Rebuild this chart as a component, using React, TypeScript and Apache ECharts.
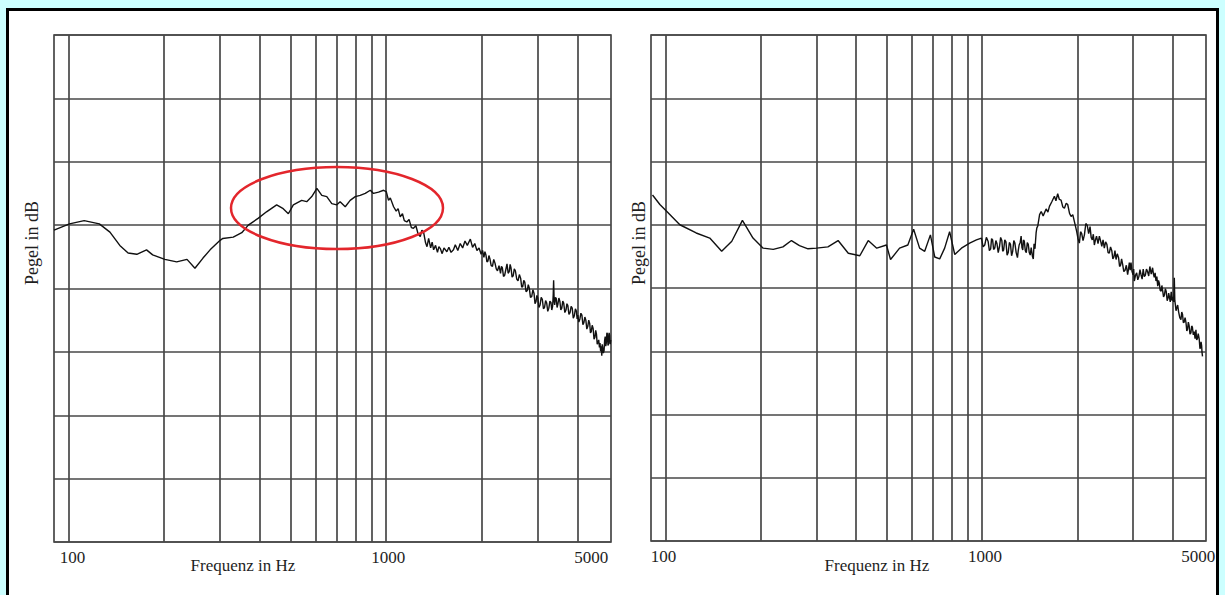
import React, { useEffect, useRef } from "react";
import * as echarts from "echarts";

// Frequency axis (Hz, logarithmic) and level axis (dB, arbitrary 8 divisions)
const X_MIN = 90;
const X_MAX = 5100;
const Y_MIN = 0;
const Y_MAX = 80;
const Y_STEP = 10;

const gridFrequencies = [100, 200, 300, 400, 500, 600, 700, 800, 900, 1000, 2000, 3000, 4000];
const tickLabels = [100, 1000, 5000];
const xAxisName = "Frequenz in Hz";
const yAxisName = "Pegel in dB";

// Left chart: [frequency Hz, level dB]
const leftCurve: [number, number][] = [
  [90, 49.2], [100.7, 50.2], [112, 50.7], [125, 50.2], [135, 48.9], [145, 46.8], [154, 45.6],
  [164, 45.4], [176, 46.1], [184, 45.3], [201, 44.6], [219, 44.2], [236, 44.6], [250, 43.2],
  [265, 44.8], [279, 46.1], [300, 47.6], [306, 47.9], [330, 48.1], [351, 48.8], [368, 50.0],
  [396, 51.1], [420, 52.1], [452, 53.2], [474, 52.6], [492, 51.8], [510, 53.2], [542, 53.9],
  [562, 53.7], [583, 54.5], [605, 55.8], [627, 54.7], [650, 54.5], [674, 53.4], [699, 53.2],
  [716, 53.7], [743, 52.9], [770, 53.9], [799, 54.5], [828, 54.7], [859, 55.0], [891, 55.5],
  [912, 55.0], [946, 55.2], [981, 55.5], [1000, 55.3], [1017, 53.9], [1030, 54.3], [1055, 52.9],
  [1075, 52.2], [1090, 52.6], [1107, 51.3], [1125, 51.8], [1140, 50.7], [1161, 50.5], [1180, 50.9],
  [1200, 49.6], [1218, 49.5], [1240, 49.9], [1260, 48.6], [1280, 48.2], [1295, 49.2], [1311, 48.9],
  [1330, 47.2], [1344, 46.6], [1360, 47.9], [1380, 46.4], [1395, 47.3], [1410, 46.1], [1430, 46.8],
  [1450, 45.7], [1465, 46.6], [1480, 46.3], [1500, 45.5], [1520, 46.4], [1552, 45.8], [1575, 46.5],
  [1600, 45.7], [1628, 46.1], [1650, 46.9], [1680, 46.0], [1710, 47.1], [1740, 46.4], [1770, 47.5],
  [1800, 46.8], [1840, 47.8], [1870, 46.5], [1900, 47.1], [1930, 46.0], [1960, 46.4], [1990, 45.4],
  [2010, 46.0], [2030, 44.9], [2045, 45.8], [2060, 45.3], [2075, 44.2], [2090, 44.3], [2105, 45.2],
  [2120, 44.7], [2140, 43.6], [2160, 43.5], [2180, 44.6], [2200, 44.0], [2220, 43.1], [2240, 42.8],
  [2265, 43.6], [2290, 42.4], [2305, 43.5], [2320, 43.3], [2340, 41.9], [2360, 42.1], [2380, 43.0],
  [2400, 43.9], [2420, 42.4], [2440, 42.7], [2455, 43.8], [2470, 43.3], [2490, 41.8], [2510, 42.0],
  [2530, 43.1], [2550, 42.8], [2575, 41.5], [2600, 41.2], [2625, 42.2], [2650, 41.6], [2670, 40.2],
  [2690, 40.3], [2710, 41.3], [2730, 41.0], [2755, 39.5], [2780, 39.7], [2800, 40.6], [2820, 40.1],
  [2845, 38.6], [2870, 38.7], [2895, 39.8], [2920, 39.2], [2940, 37.6], [2960, 37.9], [2980, 38.9],
  [3000, 38.5], [3025, 37.0], [3050, 37.4], [3075, 38.6], [3100, 38.3], [3125, 36.8], [3150, 37.0],
  [3175, 38.1], [3200, 37.7], [3225, 36.4], [3250, 36.9], [3275, 38.0], [3300, 37.8], [3320, 36.6],
  [3340, 37.2], [3355, 39.0], [3365, 41.3], [3378, 38.0], [3390, 37.4], [3410, 38.6], [3430, 38.4],
  [3450, 37.0], [3470, 37.5], [3495, 38.5], [3520, 38.0], [3545, 36.6], [3570, 36.9], [3595, 38.0],
  [3620, 37.7], [3650, 36.2], [3680, 36.6], [3705, 37.6], [3730, 37.3], [3760, 35.9], [3790, 36.2],
  [3820, 37.2], [3850, 36.9], [3880, 35.3], [3910, 35.7], [3940, 36.8], [3970, 36.4], [3990, 35.2],
  [4010, 35.8], [4040, 34.7], [4070, 35.2], [4100, 36.1], [4130, 35.8], [4160, 34.3], [4190, 34.6],
  [4220, 35.5], [4250, 35.0], [4280, 33.6], [4310, 34.0], [4340, 35.0], [4370, 34.5], [4395, 33.0],
  [4420, 33.2], [4450, 34.2], [4480, 33.7], [4510, 32.0], [4540, 32.3], [4565, 33.4], [4590, 32.8],
  [4615, 31.2], [4640, 31.5], [4665, 31.9], [4690, 30.7], [4710, 31.4], [4730, 30.1], [4750, 30.9],
  [4770, 29.4], [4785, 31.2], [4800, 30.8], [4825, 29.8], [4850, 30.2], [4870, 31.8], [4890, 32.4],
  [4910, 30.9], [4930, 31.4], [4950, 33.0], [4970, 32.8], [4990, 31.0], [5010, 31.3], [5030, 33.0],
  [5050, 32.6], [5070, 31.2], [5090, 31.9],
];

// Right chart: [frequency Hz, level dB]
const rightCurve: [number, number][] = [
  [91, 54.7], [96, 53.2], [101, 52.1], [111, 50.0], [125, 48.7], [138, 47.9], [150.5, 45.8],
  [162, 47.4], [175, 50.7], [189, 47.9], [203.5, 46.3], [219, 46.1], [235, 46.5], [250, 47.5],
  [265, 46.7], [282, 46.2], [300, 46.3], [326, 46.5], [351, 47.5], [378, 45.5], [411, 45.1],
  [437, 47.5], [465, 46.3], [499, 46.8], [514, 44.5], [549, 46.3], [583, 46.8], [608, 49.3],
  [635, 46.3], [659, 45.8], [687, 48.4], [709, 44.9], [735, 44.6], [762, 46.3], [790, 48.9],
  [820, 45.3], [861, 46.3], [914, 47.1], [960, 47.6], [996, 47.9], [1008, 46.5], [1020, 46.8],
  [1032, 48.0], [1045, 47.4], [1055, 45.9], [1065, 46.2], [1072, 47.8], [1080, 47.6], [1088, 46.1],
  [1097, 46.3], [1106, 47.5], [1115, 47.0], [1125, 45.6], [1136, 46.6], [1145, 48.0], [1155, 47.5],
  [1162, 45.8], [1170, 46.0], [1180, 47.6], [1190, 47.3], [1200, 45.2], [1210, 45.6], [1220, 47.2],
  [1230, 46.9], [1240, 45.1], [1250, 45.8], [1260, 47.5], [1270, 47.1], [1282, 45.6], [1294, 44.8],
  [1302, 46.0], [1310, 46.8], [1320, 47.2], [1329, 48.2], [1337, 46.4], [1345, 46.0], [1352, 47.6],
  [1360, 47.4], [1370, 45.9], [1380, 45.6], [1390, 47.2], [1400, 46.9], [1410, 45.6], [1420, 45.2],
  [1430, 46.4], [1443, 45.0], [1452, 44.6], [1460, 47.0], [1470, 46.2], [1482, 48.7], [1490, 49.5],
  [1500, 49.8], [1520, 51.6], [1538, 52.1], [1560, 51.4], [1594, 52.5], [1615, 52.0], [1633, 52.9],
  [1660, 53.6], [1693, 54.5], [1712, 53.8], [1734, 54.9], [1755, 54.0], [1777, 53.9], [1800, 52.8],
  [1821, 52.6], [1845, 53.4], [1865, 53.2], [1890, 51.8], [1912, 51.3], [1935, 51.6], [1958, 50.5],
  [1990, 49.0], [2010, 47.8], [2030, 47.1], [2048, 48.9], [2065, 48.6], [2085, 47.5], [2106, 48.4],
  [2128, 50.2], [2150, 49.9], [2172, 48.6], [2194, 49.7], [2212, 48.0], [2230, 47.6], [2247, 48.5],
  [2264, 46.8], [2282, 47.6], [2300, 48.2], [2325, 47.0], [2348, 48.2], [2370, 47.4], [2390, 46.6],
  [2412, 47.6], [2434, 46.3], [2457, 47.3], [2480, 46.9], [2502, 45.6], [2524, 45.5], [2547, 46.5],
  [2570, 45.9], [2590, 44.6], [2610, 44.9], [2630, 45.9], [2651, 44.5], [2675, 45.4], [2700, 44.8],
  [2720, 43.4], [2740, 43.6], [2760, 44.6], [2782, 43.7], [2805, 42.6], [2830, 42.8], [2857, 43.6],
  [2884, 42.1], [2902, 43.0], [2920, 44.0], [2938, 42.8], [2956, 44.0], [2978, 42.6], [3000, 42.1],
  [3014, 43.0], [3028, 41.1], [3054, 42.0], [3080, 42.4], [3105, 41.3], [3130, 41.8], [3155, 42.9],
  [3179, 42.1], [3205, 41.4], [3230, 43.0], [3255, 41.8], [3280, 42.0], [3307, 43.0], [3334, 42.6],
  [3362, 41.9], [3390, 43.4], [3424, 42.2], [3458, 43.2], [3480, 42.2], [3500, 41.7], [3522, 42.4],
  [3544, 41.1], [3567, 41.8], [3590, 40.3], [3610, 41.2], [3630, 40.8], [3655, 39.6], [3680, 39.5],
  [3700, 40.4], [3718, 39.7], [3745, 38.6], [3770, 38.9], [3795, 39.9], [3820, 39.4], [3845, 38.0],
  [3870, 38.4], [3887, 39.2], [3904, 38.7], [3932, 37.8], [3960, 39.4], [3985, 38.0], [4010, 38.6],
  [4030, 37.8], [4050, 41.6], [4065, 38.0], [4080, 37.4], [4100, 36.4], [4120, 36.8], [4150, 37.3],
  [4180, 36.2], [4215, 35.3], [4250, 35.0], [4275, 36.2], [4300, 35.8], [4325, 34.5], [4350, 34.6],
  [4380, 35.3], [4410, 34.5], [4435, 33.2], [4460, 33.5], [4485, 34.6], [4510, 34.1], [4540, 32.7],
  [4570, 32.9], [4595, 34.0], [4620, 33.8], [4650, 32.6], [4680, 33.1], [4710, 32.0], [4740, 33.4],
  [4765, 31.8], [4790, 32.0], [4820, 32.8], [4855, 31.9], [4880, 30.4], [4900, 30.6], [4920, 31.5],
  [4940, 30.9], [4955, 29.8], [4972, 29.2],
];

const FONT = "'Liberation Serif', 'Times New Roman', serif";
const GRID_COLOR = "#474747";
const TEXT_COLOR = "#1e1e1e";

export default function App() {
  const ref = useRef<HTMLDivElement>(null);

  useEffect(() => {
    if (!ref.current) return;
    const chart = echarts.init(ref.current, null, { renderer: "svg" });

    const grids = [
      { left: 54, top: 35, width: 557, height: 507 },
      { left: 651, top: 35, width: 555, height: 506 },
    ];
    const curves = [leftCurve, rightCurve];

    const option: any = {
      animation: false,
      grid: grids.map((g) => ({
        ...g,
        show: true,
        borderColor: GRID_COLOR,
        borderWidth: 1.7,
        backgroundColor: "transparent",
      })),
      xAxis: grids.map((_, i) => ({
        type: "log",
        logBase: 10,
        gridIndex: i,
        min: X_MIN,
        max: X_MAX,
        axisLine: { show: false },
        axisTick: { show: false },
        axisLabel: { show: false },
        splitLine: { show: false },
      })),
      yAxis: grids.map((_, i) => ({
        type: "value",
        gridIndex: i,
        min: Y_MIN,
        max: Y_MAX,
        interval: Y_STEP,
        axisLine: { show: false },
        axisTick: { show: false },
        axisLabel: { show: false },
        splitLine: { show: true, lineStyle: { color: GRID_COLOR, width: 1.7 } },
      })),
      series: curves.map((c, i) => ({
        type: "line",
        xAxisIndex: i,
        yAxisIndex: i,
        data: c,
        showSymbol: false,
        symbol: "none",
        smooth: false,
        lineStyle: { color: "#111111", width: 1.4 },
        z: 5,
        markLine: {
          silent: true,
          symbol: ["none", "none"],
          label: { show: false },
          lineStyle: { color: GRID_COLOR, width: 1.7, type: "solid" },
          emphasis: { disabled: true },
          data: gridFrequencies.map((f) => ({ xAxis: f })),
          z: 1,
        },
      })),
    };
    chart.setOption(option);

    const labelOffsets = [
      [4, 2, -17],
      [-2, 3, -5],
    ];
    const graphic: any[] = [];
    grids.forEach((g, i) => {
      tickLabels.forEach((f, k) => {
        const p = chart.convertToPixel({ gridIndex: i }, [f, Y_MIN]) as number[];
        graphic.push({
          type: "text",
          x: p[0] + labelOffsets[i][k],
          y: p[1] + 15,
          style: {
            text: String(f),
            font: `17px ${FONT}`,
            fill: TEXT_COLOR,
            textAlign: "center",
            textVerticalAlign: "middle",
          },
        });
      });
    });
    const nameX = [243, 877];
    const nameYX = [32, 639];
    grids.forEach((g, i) => {
      graphic.push({
        type: "text",
        x: nameX[i],
        y: 565,
        style: {
          text: xAxisName,
          font: `17px ${FONT}`,
          fill: TEXT_COLOR,
          textAlign: "center",
          textVerticalAlign: "middle",
        },
      });
      graphic.push({
        type: "text",
        x: nameYX[i],
        y: 243,
        rotation: Math.PI / 2,
        style: {
          text: yAxisName,
          font: `18px ${FONT}`,
          fill: TEXT_COLOR,
          textAlign: "center",
          textVerticalAlign: "middle",
        },
      });
    });
    graphic.push({
      type: "ellipse",
      shape: { cx: 337, cy: 208, rx: 106, ry: 41 },
      style: { fill: "none", stroke: "#e3262c", lineWidth: 2.5 },
      z: 10,
    });
    chart.setOption({ graphic });

    return () => chart.dispose();
  }, []);

  return (
    <div
      style={{
        position: "fixed",
        left: 0,
        top: 0,
        width: 1225,
        height: 595,
        background: "#ccffff",
        overflow: "hidden",
      }}
    >
      <div
        style={{
          position: "absolute",
          left: 6,
          top: 8,
          width: 1213,
          height: 600,
          background: "#ffffff",
          borderLeft: "3px solid #000",
          borderTop: "3px solid #000",
          borderRight: "3px solid #000",
          boxSizing: "border-box",
        }}
      />
      <div ref={ref} style={{ position: "absolute", left: 0, top: 0, width: 1225, height: 595 }} />
    </div>
  );
}
